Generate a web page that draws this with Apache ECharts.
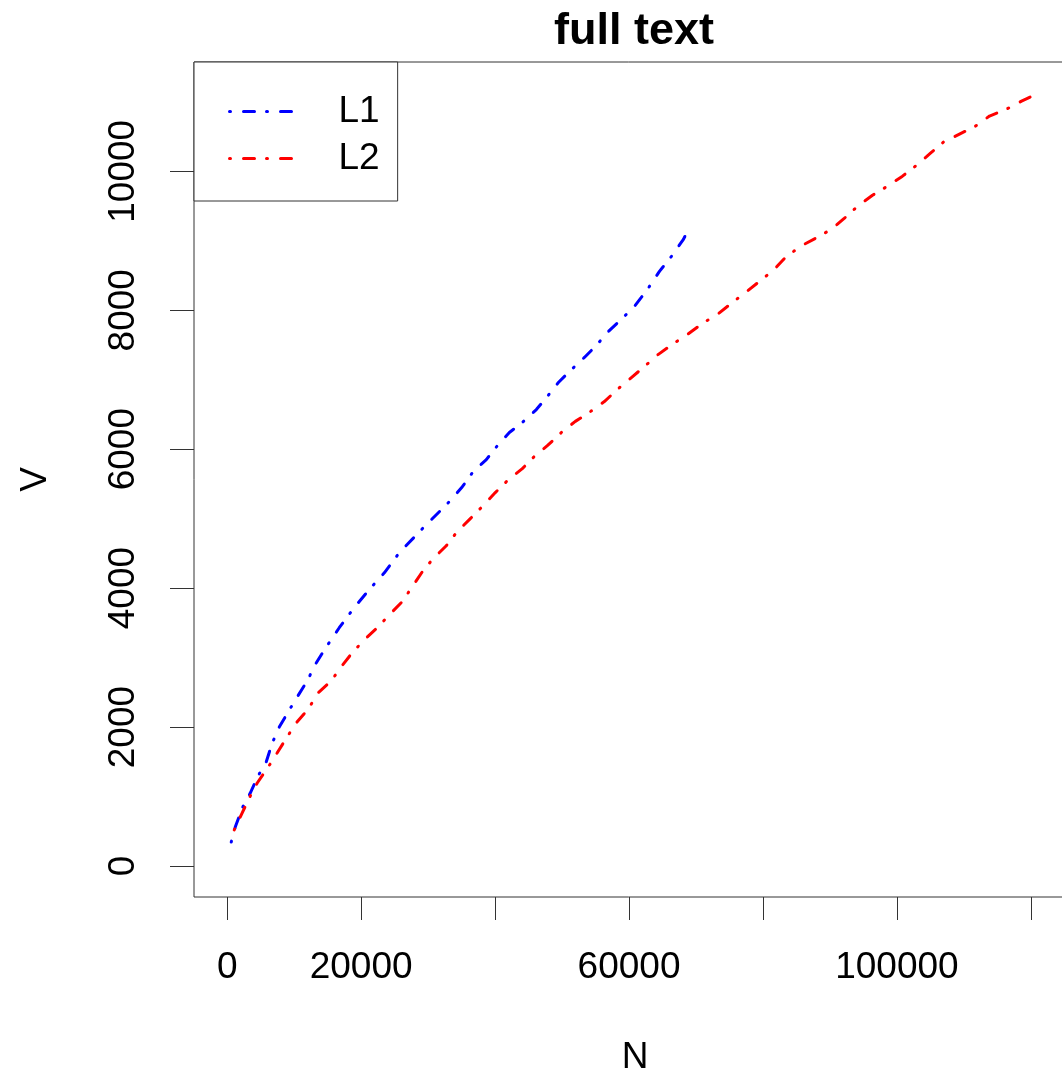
<!DOCTYPE html>
<html>
<head>
<meta charset="utf-8">
<style>
  html, body { margin: 0; padding: 0; background: #fff; }
  #chart { width: 1062px; height: 1075px; }
</style>
<script src="https://cdn.jsdelivr.net/npm/echarts@6/dist/echarts.min.js"></script>
</head>
<body>
<div id="chart"></div>
<script>
// ---- data ----
const titleText = 'full text';
const xName = 'N';
const yName = 'V';
const seriesNames = ['L1', 'L2'];

const l1N = [600, 1200, 2240, 3440, 4630, 5830, 6720, 7770, 9110, 10460, 11950, 13150, 14490,
  16730, 18970, 21210, 23460, 25700, 29430, 31520, 33470, 35110, 36750, 38690, 40340, 42130,
  44070, 46160, 47810, 49450, 51390, 53330, 55130, 56920, 58860, 60800, 62750, 64540, 66330,
  68120, 69020];
const l1V = [345, 560, 835, 1050, 1300, 1500, 1770, 2000, 2220, 2435, 2665, 2900, 3110,
  3430, 3720, 3980, 4220, 4510, 4885, 5085, 5275, 5460, 5680, 5850, 6050, 6240,
  6385, 6570, 6760, 6960, 7145, 7320, 7495, 7695, 7870, 8055, 8300, 8560, 8775,
  9020, 9195];

const l2N = [1050, 2240, 3290, 4480, 6125, 7470, 8960, 10310, 12100, 13590, 15535, 17030, 18670,
  20460, 22410, 24200, 26140, 27630, 29130, 30620, 32710, 34360, 36300, 38090, 40030, 41975,
  44065, 45860, 47800, 49890, 51980, 54075, 56315, 58260, 60350, 62290, 64380, 66475, 68710,
  70950, 73195, 75290, 77380, 79470, 81560, 83350, 85590, 87830, 90220, 92170, 94110, 96350,
  98590, 100830, 102920, 105010, 106950, 109340, 111735, 113825, 116365, 118605, 121145];
const l2V = [520, 765, 980, 1195, 1425, 1630, 1860, 2060, 2260, 2495, 2665, 2870, 3070,
  3255, 3430, 3615, 3805, 4020, 4235, 4410, 4610, 4815, 5000, 5175, 5375, 5560,
  5720, 5895, 6050, 6240, 6400, 6530, 6685, 6860, 7030, 7190, 7365, 7510, 7650,
  7810, 7940, 8100, 8255, 8415, 8575, 8760, 8920, 9035, 9165, 9325, 9495, 9655,
  9785, 9930, 10085, 10260, 10420, 10535, 10650, 10795, 10895, 11010, 11125];

const xTicks = [0, 20000, 40000, 60000, 80000, 100000, 120000];
const xTickLabels = [0, 20000, 60000, 100000];
const yTicks = [0, 2000, 4000, 6000, 8000, 10000];
const yTickLabels = [0, 2000, 4000, 6000, 8000, 10000];

// ---- chart ----
const font = "'Liberation Sans', Arial, sans-serif";
const dash = [1, 13, 11, 12];
function pairs(xs, ys) { return xs.map((x, i) => [x, ys[i]]); }
const plain = v => String(v);

const chart = echarts.init(document.getElementById('chart'), null, { renderer: 'canvas' });
chart.setOption({
  animation: false,
  backgroundColor: '#ffffff',
  title: {
    text: titleText,
    left: 634,
    top: 9,
    padding: 0,
    textAlign: 'center',
    textStyle: { fontFamily: font, fontSize: 45, fontWeight: 'bold', color: '#000' }
  },
  grid: {
    left: 194, top: 62, right: -14, bottom: 178,
    show: true, borderColor: '#333', borderWidth: 1, backgroundColor: 'transparent',
    containLabel: false,
    outerBoundsMode: 'none'
  },
  legend: {
    orient: 'vertical',
    left: 194, top: 62,
    padding: [31, 18, 24, 34],
    itemGap: 10,
    itemWidth: 63,
    itemHeight: 20,
    borderColor: '#333', borderWidth: 1, borderRadius: 0,
    backgroundColor: '#fff',
    data: seriesNames,
    itemStyle: { opacity: 0 },
    lineStyle: { width: 3, cap: 'round' },
    textStyle: { fontFamily: font, fontSize: 37, lineHeight: 37, color: '#000', padding: [0, 0, 0, 41] }
  },
  xAxis: {
    type: 'value',
    min: -4960, max: 126740,
    name: xName, nameLocation: 'middle', nameGap: 142,
    nameTextStyle: { fontFamily: font, fontSize: 37, color: '#000' },
    axisLine: { show: false, onZero: false },
    splitLine: { show: false },
    axisTick: { show: true, length: 23, inside: false, customValues: xTicks, lineStyle: { color: '#333', width: 1 } },
    axisLabel: { customValues: xTickLabels, formatter: plain, margin: 52, fontFamily: font, fontSize: 37, color: '#000', showMinLabel: true, showMaxLabel: true }
  },
  yAxis: {
    type: 'value',
    min: -446, max: 11573,
    name: yName, nameLocation: 'middle', nameGap: 140, nameRotate: 90,
    nameTextStyle: { fontFamily: font, fontSize: 37, color: '#000' },
    axisLine: { show: false, onZero: false },
    splitLine: { show: false },
    axisTick: { show: true, length: 24, inside: false, customValues: yTicks, lineStyle: { color: '#333', width: 1 } },
    axisLabel: { customValues: yTickLabels, formatter: plain, rotate: 90, margin: 52, fontFamily: font, fontSize: 37, color: '#000' }
  },
  series: [
    {
      name: seriesNames[0], type: 'line', data: pairs(l1N, l1V),
      symbol: 'none', smooth: false, color: '#0000ff',
      lineStyle: { color: '#0000ff', width: 3, type: dash, cap: 'round', join: 'round' }
    },
    {
      name: seriesNames[1], type: 'line', data: pairs(l2N, l2V),
      symbol: 'none', smooth: false, color: '#ff0000',
      lineStyle: { color: '#ff0000', width: 3, type: dash, cap: 'round', join: 'round' }
    }
  ]
});
</script>
</body>
</html>
